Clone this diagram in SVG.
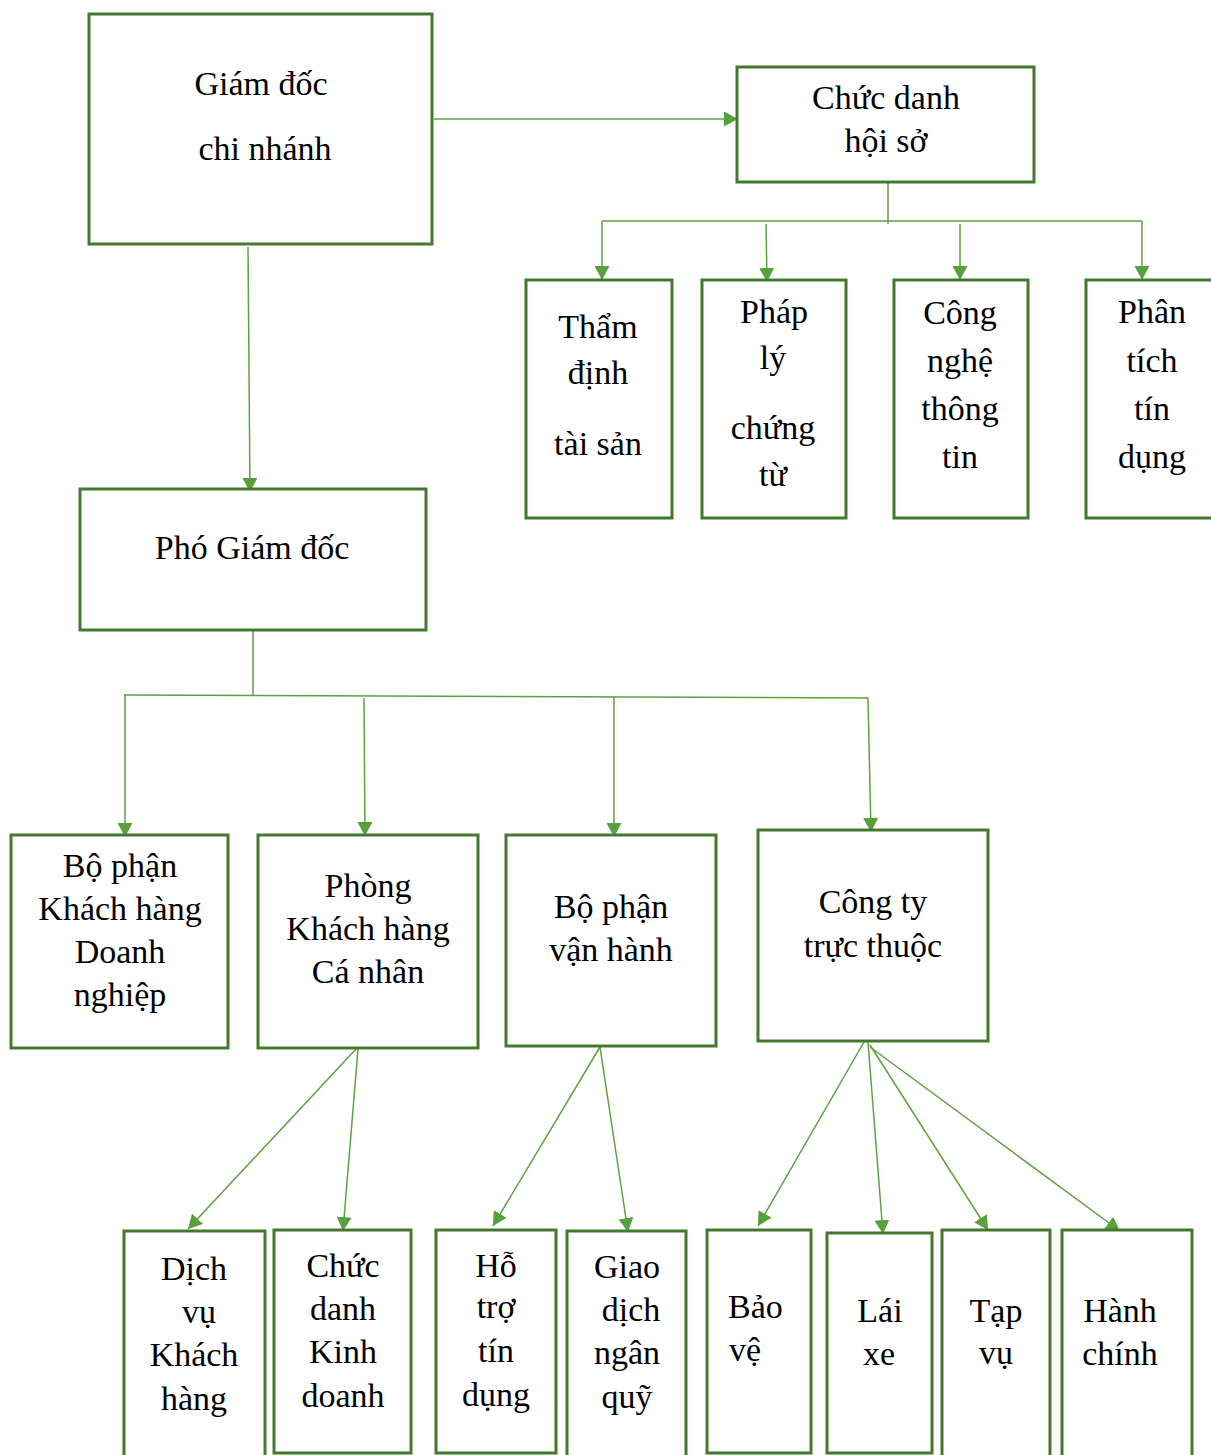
<svg xmlns="http://www.w3.org/2000/svg" width="1211" height="1455" viewBox="0 0 1211 1455">
<style>
.box{fill:#fff;stroke:#43792c;stroke-width:3}
.c{fill:none;stroke:#5ba23f;stroke-width:1.5}
text{font-family:"Liberation Serif","Times New Roman",serif;font-size:34px;fill:#000;text-anchor:middle}
.l{text-anchor:start}
</style>
<defs>
<marker id="ah" viewBox="0 0 14 15" refX="14" refY="7.5" markerWidth="14" markerHeight="15" markerUnits="userSpaceOnUse" orient="auto">
<path d="M0,0 L14,7.5 L0,15 z" fill="#58a03c"/>
</marker>
</defs>
<rect width="1211" height="1455" fill="#fff"/>
<g id="connectors">
<line class="c" x1="434" y1="119" x2="738" y2="119" marker-end="url(#ah)"/>
<line class="c" x1="888" y1="182" x2="888" y2="224"/>
<line class="c" x1="602" y1="221" x2="1142" y2="221"/>
<line class="c" x1="602" y1="221" x2="602" y2="280" marker-end="url(#ah)"/>
<line class="c" x1="766" y1="224" x2="767" y2="282" marker-end="url(#ah)"/>
<line class="c" x1="960" y1="224" x2="960" y2="280" marker-end="url(#ah)"/>
<line class="c" x1="1142" y1="221" x2="1142" y2="280" marker-end="url(#ah)"/>
<line class="c" x1="248" y1="247" x2="250" y2="492" marker-end="url(#ah)"/>
<line class="c" x1="253" y1="631" x2="253" y2="696"/>
<line class="c" x1="124" y1="695" x2="868" y2="698"/>
<line class="c" x1="125" y1="695" x2="125" y2="837" marker-end="url(#ah)"/>
<line class="c" x1="364" y1="698" x2="365" y2="836" marker-end="url(#ah)"/>
<line class="c" x1="614" y1="697" x2="614" y2="837" marker-end="url(#ah)"/>
<line class="c" x1="868" y1="698" x2="871" y2="832" marker-end="url(#ah)"/>
<line class="c" x1="356" y1="1049" x2="188" y2="1229" marker-end="url(#ah)"/>
<line class="c" x1="358" y1="1049" x2="343" y2="1231" marker-end="url(#ah)"/>
<line class="c" x1="600" y1="1047" x2="493" y2="1226" marker-end="url(#ah)"/>
<line class="c" x1="600" y1="1047" x2="628" y2="1232" marker-end="url(#ah)"/>
<line class="c" x1="864" y1="1042" x2="758" y2="1226" marker-end="url(#ah)"/>
<line class="c" x1="868" y1="1042" x2="883" y2="1234" marker-end="url(#ah)"/>
<line class="c" x1="870" y1="1045" x2="988" y2="1230" marker-end="url(#ah)"/>
<line class="c" x1="870" y1="1047" x2="1120" y2="1231" marker-end="url(#ah)"/>
</g>
<g id="n-giamdoc"><rect class="box" x="89" y="14" width="343" height="230"/>
<text x="261" y="95">Giám đốc</text><text x="265" y="160">chi nhánh</text></g>
<g id="n-chucdanh-hoiso"><rect class="box" x="737" y="67" width="297" height="115"/>
<text x="886" y="109">Chức danh</text><text x="886" y="152">hội sở</text></g>
<g id="n-thamdinh"><rect class="box" x="526" y="280" width="146" height="238"/>
<text x="598" y="338">Thẩm</text><text x="598" y="384">định</text><text x="598" y="455">tài sản</text></g>
<g id="n-phaply"><rect class="box" x="702" y="280" width="144" height="238"/>
<text x="774" y="323">Pháp</text><text x="773" y="369">lý</text><text x="773" y="439">chứng</text><text x="773" y="486">từ</text></g>
<g id="n-congnghe"><rect class="box" x="894" y="280" width="134" height="238"/>
<text x="960" y="324">Công</text><text x="960" y="372">nghệ</text><text x="960" y="420">thông</text><text x="960" y="468">tin</text></g>
<g id="n-phantich"><rect class="box" x="1086" y="280" width="140" height="238"/>
<text x="1152" y="323">Phân</text><text x="1152" y="372">tích</text><text x="1152" y="420">tín</text><text x="1152" y="468">dụng</text></g>
<g id="n-phogiamdoc"><rect class="box" x="80" y="489" width="346" height="141"/>
<text x="252" y="559">Phó Giám đốc</text></g>
<g id="n-khdn"><rect class="box" x="11" y="835" width="217" height="213"/>
<text x="120" y="877">Bộ phận</text><text x="120" y="920">Khách hàng</text><text x="120" y="963">Doanh</text><text x="120" y="1006">nghiệp</text></g>
<g id="n-khcn"><rect class="box" x="258" y="835" width="220" height="213"/>
<text x="368" y="897">Phòng</text><text x="368" y="940">Khách hàng</text><text x="368" y="983">Cá nhân</text></g>
<g id="n-vanhanh"><rect class="box" x="506" y="835" width="210" height="211"/>
<text x="611" y="918">Bộ phận</text><text x="611" y="961">vận hành</text></g>
<g id="n-congty"><rect class="box" x="758" y="830" width="230" height="211"/>
<text x="873" y="913">Công ty</text><text x="873" y="957">trực thuộc</text></g>
<g id="n-dichvu"><rect class="box" x="124" y="1231" width="141" height="240"/>
<text x="194" y="1280">Dịch</text><text x="199" y="1323">vụ</text><text x="194" y="1366">Khách</text><text x="194" y="1410">hàng</text></g>
<g id="n-chucdanh-kd"><rect class="box" x="274" y="1230" width="137" height="223"/>
<text x="343" y="1277">Chức</text><text x="343" y="1320">danh</text><text x="343" y="1363">Kinh</text><text x="343" y="1407">doanh</text></g>
<g id="n-hotro"><rect class="box" x="436" y="1230" width="120" height="223"/>
<text x="496" y="1277">Hỗ</text><text x="496" y="1318">trợ</text><text x="496" y="1362">tín</text><text x="496" y="1406">dụng</text></g>
<g id="n-giaodich"><rect class="box" x="567" y="1231" width="119" height="240"/>
<text x="627" y="1278">Giao</text><text x="631" y="1321">dịch</text><text x="627" y="1364">ngân</text><text x="627" y="1408">quỹ</text></g>
<g id="n-baove"><rect class="box" x="707" y="1230" width="104" height="223"/>
<text class="l" x="728" y="1318">Bảo</text><text class="l" x="729" y="1361">vệ</text></g>
<g id="n-laixe"><rect class="box" x="827" y="1233" width="105" height="220"/>
<text x="880" y="1322">Lái</text><text x="879" y="1365">xe</text></g>
<g id="n-tapvu"><rect class="box" x="942" y="1230" width="108" height="240"/>
<text x="996" y="1322">Tạp</text><text x="996" y="1364">vụ</text></g>
<g id="n-hanhchinh"><rect class="box" x="1062" y="1230" width="130" height="240"/>
<text x="1120" y="1322">Hành</text><text x="1120" y="1365">chính</text></g>
</svg>
